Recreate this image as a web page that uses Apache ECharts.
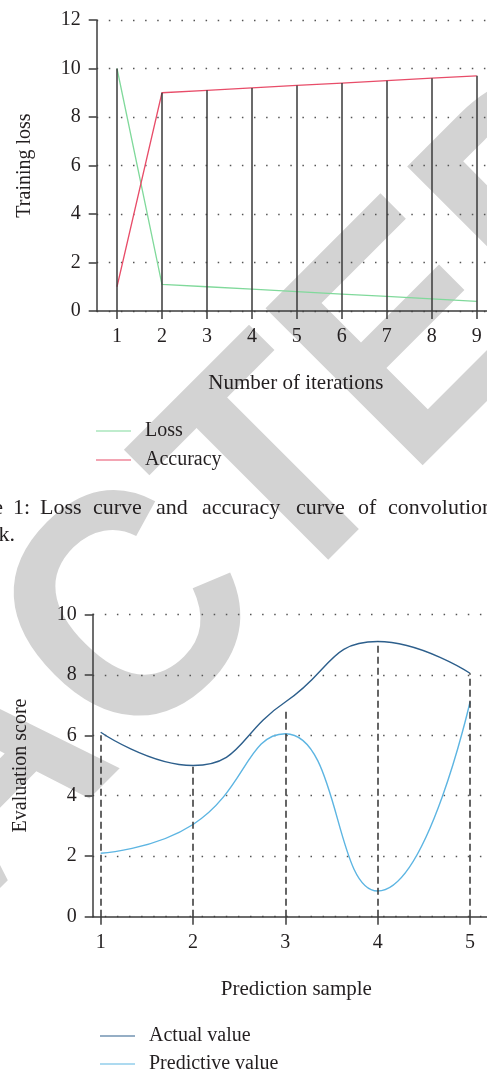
<!DOCTYPE html>
<html>
<head>
<meta charset="utf-8">
<script src="https://cdn.jsdelivr.net/npm/echarts@6/dist/echarts.min.js"></script>
<style>
    html, body { margin: 0; padding: 0; background: #fff; }
    #main { width: 487px; height: 1072px; }
</style>
</head>
<body>
<div id="main"></div>
<script>
    // chart 1: loss / accuracy
    var iterations = [1, 2, 3, 4, 5, 6, 7, 8, 9];
    var lossValues = [10, 1.1, 1.0, 0.9, 0.8, 0.7, 0.6, 0.5, 0.4];
    var accuracyValues = [1.0, 9.0, 9.1, 9.2, 9.3, 9.4, 9.5, 9.6, 9.7];
    var stemTops = [10, 9.0, 9.1, 9.2, 9.3, 9.4, 9.5, 9.6, 9.7];

    // chart 2: prediction
    var samples = [1, 2, 3, 4, 5];
    var actualValues = [6.1, 5.0, 7.1, 9.1, 8.05];
    var predictiveValues = [2.1, 3.05, 6.05, 0.85, 7.1];
    var dropTops = [6.0, 5.0, 6.9, 9.1, 8.05];

    var captionWords = ['Figure', '1:', 'Loss', 'curve', 'and', 'accuracy', 'curve', 'of', 'convolutional'];
    var captionX = [3, 13, 40, 93, 156, 202, 296, 358, 388];

    var ink = '#231f20';
    var axisColor = '#3d3d3d';
    var serif = '"Liberation Serif", "DejaVu Serif", serif';

    var pairs = function (xs, ys) {
        var res = [];
        for (var i = 0; i < xs.length; i++) res.push([xs[i], ys[i]]);
        return res;
    };

    var vLines = function (xs, tops) {
        var res = [];
        for (var i = 0; i < xs.length; i++) {
            res.push([{ coord: [xs[i], 0] }, { coord: [xs[i], tops[i]] }]);
        }
        return res;
    };

    var xAxisBase = function (grid, min, max, ticks, name) {
        return {
            type: 'value', gridIndex: grid, min: min, max: max,
            name: name, nameLocation: 'middle', nameGap: 62,
            nameTextStyle: { fontFamily: serif, fontSize: 21, color: ink },
            axisLine: { lineStyle: { color: axisColor, width: 1.5 } },
            axisTick: { customValues: ticks, length: 8, lineStyle: { color: axisColor, width: 1.5 } },
            axisLabel: { customValues: ticks, margin: 16, fontFamily: serif, fontSize: 20, color: ink },
            splitLine: { show: false }
        };
    };

    var yAxisBase = function (grid, max, name) {
        return {
            type: 'value', gridIndex: grid, min: 0, max: max, interval: 2,
            name: name, nameLocation: 'middle', nameGap: 62,
            nameTextStyle: { fontFamily: serif, fontSize: 20, color: ink },
            axisLine: { show: true, lineStyle: { color: axisColor, width: 1.5 } },
            axisTick: { show: true, length: 8, lineStyle: { color: axisColor, width: 1.5 } },
            axisLabel: { margin: 16, fontFamily: serif, fontSize: 20, color: ink },
            splitLine: { show: true, lineStyle: { color: '#555', width: 1.3, type: [1.5, 10.6] } }
        };
    };

    var legendBase = function (names, left, top, gap) {
        return {
            data: names, orient: 'vertical', left: left, top: top, height: 80, padding: 0,
            icon: 'rect', itemWidth: 35, itemHeight: 1.2, itemGap: gap,
            textStyle: { fontFamily: serif, fontSize: 20, color: ink, padding: [0, 0, 0, 9] }
        };
    };

    // watermark, letter by letter along a 45 degree baseline
    var wmText = 'RETRACTED';
    var wmAdvance = [0.722, 0.667, 0.611, 0.722, 0.722, 0.722, 0.611, 0.667, 0.722];
    var wmSize = 323, wmSquash = 0.93;
    var graphics = [];
    var offs = [0];
    for (var i = 1; i < wmText.length; i++) {
        offs.push(offs[i - 1] + (wmAdvance[i - 1] + wmAdvance[i]) / 2 * wmSize * wmSquash);
    }
    for (var i = 0; i < wmText.length; i++) {
        var s = (offs[i] - offs[5]) * Math.SQRT1_2;
        graphics.push({
            type: 'text', x: 139 + s, y: 623 - s, rotation: Math.PI / 4, scaleX: wmSquash,
            z: -100, silent: true,
            style: {
                text: wmText[i], fill: '#d3d3d3',
                font: 'bold ' + wmSize + 'px "Liberation Sans", Arial, sans-serif',
                align: 'center', verticalAlign: 'middle'
            }
        });
    }

    for (var i = 0; i < captionWords.length; i++) {
        graphics.push({
            type: 'text', x: captionX[i], y: 508.6, z: 100,
            style: {
                text: captionWords[i], fill: ink, font: '22px ' + serif,
                align: i === 0 ? 'right' : 'left', verticalAlign: 'middle'
            }
        });
    }
    graphics.push({
        type: 'text', x: 15, y: 535.6, z: 100,
        style: { text: 'network.', fill: ink, font: '22px ' + serif, align: 'right', verticalAlign: 'middle' }
    });

    var myChart = echarts.init(document.getElementById('main'));
    var option = {
        animation: false,
        backgroundColor: '#fff',
        graphic: { elements: graphics },
        grid: [
            { left: 96.7, top: 20, width: 398.3, height: 291, outerBoundsMode: 'none' },
            { left: 92.7, top: 614.3, width: 407.3, height: 302.4, outerBoundsMode: 'none' }
        ],
        xAxis: [
            xAxisBase(0, 0.5485, 9.407, iterations, 'Number of iterations'),
            xAxisBase(1, 0.9133, 5.325, samples, 'Prediction sample')
        ],
        yAxis: [
            yAxisBase(0, 12, 'Training loss'),
            yAxisBase(1, 10, 'Evaluation score')
        ],
        legend: [
            legendBase(['Loss', 'Accuracy'], 96, 421, 9),
            legendBase(['Actual value', 'Predictive value'], 100, 1026, 8)
        ],
        series: [
            {
                name: 'stems', type: 'line', xAxisIndex: 0, yAxisIndex: 0, data: [], z: 1,
                markLine: {
                    silent: true, symbol: ['none', 'none'], label: { show: false },
                    lineStyle: { color: '#3a3a3a', width: 1.5, type: 'solid' },
                    data: vLines(iterations, stemTops)
                }
            },
            {
                name: 'Loss', type: 'line', xAxisIndex: 0, yAxisIndex: 0, z: 3,
                symbol: 'none', data: pairs(iterations, lossValues),
                lineStyle: { color: '#80d99b', width: 1.3 }, itemStyle: { color: '#80d99b' }
            },
            {
                name: 'Accuracy', type: 'line', xAxisIndex: 0, yAxisIndex: 0, z: 3,
                symbol: 'none', data: pairs(iterations, accuracyValues),
                lineStyle: { color: '#e84d69', width: 1.3 }, itemStyle: { color: '#e84d69' }
            },
            {
                name: 'drops', type: 'line', xAxisIndex: 1, yAxisIndex: 1, data: [], z: 1,
                markLine: {
                    silent: true, symbol: ['none', 'none'], label: { show: false },
                    lineStyle: { color: '#333', width: 1.5, type: [7, 4] },
                    data: vLines(samples, dropTops)
                }
            },
            {
                name: 'Actual value', type: 'line', xAxisIndex: 1, yAxisIndex: 1, z: 3,
                symbol: 'none', smooth: 0.5, data: pairs(samples, actualValues),
                lineStyle: { color: '#2d5f8c', width: 1.4 }, itemStyle: { color: '#2d5f8c' }
            },
            {
                name: 'Predictive value', type: 'line', xAxisIndex: 1, yAxisIndex: 1, z: 3,
                symbol: 'none', smooth: 0.5, data: pairs(samples, predictiveValues),
                lineStyle: { color: '#5db5e2', width: 1.4 }, itemStyle: { color: '#5db5e2' }
            }
        ]
    };
    myChart.setOption(option);
</script>
</body>
</html>
